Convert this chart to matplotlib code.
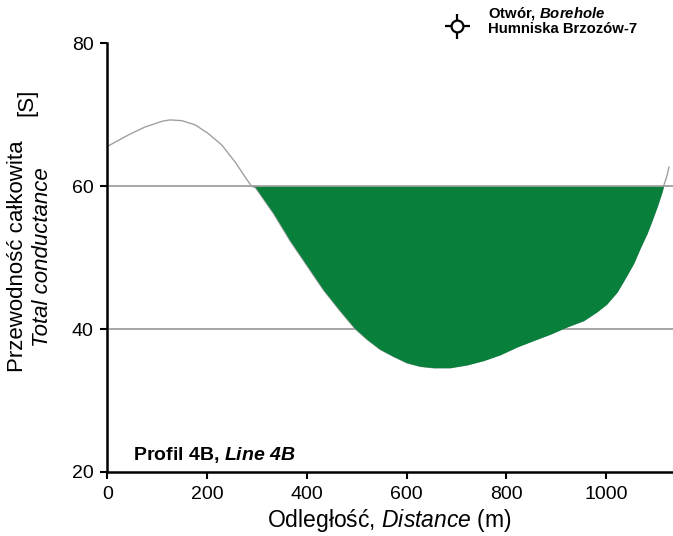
import numpy as np
from matplotlib import pyplot as plt

plt.rcParams['font.family'] = ['Liberation Sans', 'DejaVu Sans']
plt.rcParams['mathtext.fontset'] = 'custom'
plt.rcParams['mathtext.rm'] = 'Liberation Sans'
plt.rcParams['mathtext.it'] = 'Liberation Sans:italic'
plt.rcParams['mathtext.bf'] = 'Liberation Sans:bold'
plt.rcParams['mathtext.bfit'] = 'Liberation Sans:italic:bold'

# profile
distance = np.array([0, 42, 75, 109, 125, 149, 176, 202, 229, 256, 276, 289,
                     296, 333, 366, 400, 433, 466, 496, 520, 546, 573, 600,
                     627, 654, 687, 721, 754, 787, 821, 854, 888, 921, 955,
                     981, 1001, 1022, 1038, 1055, 1068, 1082, 1092, 1102,
                     1112, 1115, 1122, 1126])
conductance = np.array([65.6, 67.2, 68.3, 69.1, 69.3, 69.2, 68.6, 67.4, 65.8,
                        63.4, 61.3, 60.0, 59.9, 56.2, 52.4, 48.9, 45.5, 42.6,
                        40.1, 38.6, 37.2, 36.2, 35.3, 34.8, 34.6, 34.6, 35.0,
                        35.6, 36.4, 37.5, 38.4, 39.3, 40.3, 41.2, 42.4, 43.5,
                        45.2, 47.1, 49.2, 51.3, 53.4, 55.2, 57.1, 59.2, 60.0,
                        61.5, 62.7])
threshold = 60
grid_levels = [40, 60, 80]
x_ticks = [0, 200, 400, 600, 800, 1000]
y_ticks = [20, 40, 60, 80]

W, H = 673, 536
fig = plt.figure(figsize=(W / 100, H / 100), dpi=100)
left, right, top, bottom = 107.5, 673, 43.5, 472
ax = fig.add_axes([left / W, 1 - bottom / H, (right - left) / W, (bottom - top) / H])

for lev in grid_levels:
    ax.axhline(lev, color='#a0a0a0', lw=1.3, zorder=1)

ax.plot(distance, conductance, color='#a0a0a0', lw=1.0, zorder=2)
ax.fill_between(distance, conductance, threshold, where=conductance < threshold,
                interpolate=True, color='#08803c', lw=0, zorder=3)

ax.set_xlim(0, 1134)
ax.set_ylim(20, 80)
ax.set_xticks(x_ticks)
ax.set_yticks(y_ticks)
ax.tick_params(direction='out', length=5, width=1.5, labelsize=14, colors='black')
ax.tick_params(axis='x', pad=5)
ax.tick_params(axis='y', pad=5)
for s in ['top', 'right']:
    ax.spines[s].set_visible(False)
for s in ['left', 'bottom']:
    ax.spines[s].set_linewidth(1.8)

fig.text(389 / W, 1 - 521 / H, 'Odległość, $\\mathit{Distance}$ (m)', fontsize=16.5,
         ha='center', va='center')

fig.text(18 / W, 1 - 256 / H, 'Przewodność całkowita', fontsize=16,
         rotation=90, ha='center', va='center')
fig.text(43 / W, 1 - 257 / H, 'Total conductance', fontsize=16, style='italic',
         rotation=90, ha='center', va='center')
fig.text(27 / W, 1 - 102 / H, '[S]', fontsize=16, rotation=90, ha='center', va='center')

fig.text(133 / W, 1 - 455 / H, 'Profil 4B, $\\mathbfit{Line}$ $\\mathbfit{4B}$', fontsize=14,
         weight='bold', ha='left', va='center')

# borehole symbol
mx, my = 457 / W, 1 - 26 / H
fig.add_artist(plt.Line2D([mx], [my], marker='+', ms=18, mew=1.6, color='black',
                          transform=fig.transFigure))
fig.add_artist(plt.Line2D([mx], [my], marker='o', ms=8.5, mew=1.6, mec='black', mfc='white',
                          transform=fig.transFigure))
fig.text(488 / W, 1 - 14 / H, 'Otwór, $\\mathbfit{Borehole}$', fontsize=10.7, weight='bold',
         ha='left', va='center')
fig.text(488 / W, 1 - 29 / H, 'Humniska Brzozów-7', fontsize=10.7, weight='bold',
         ha='left', va='center')

plt.savefig('out.png', dpi=100)
